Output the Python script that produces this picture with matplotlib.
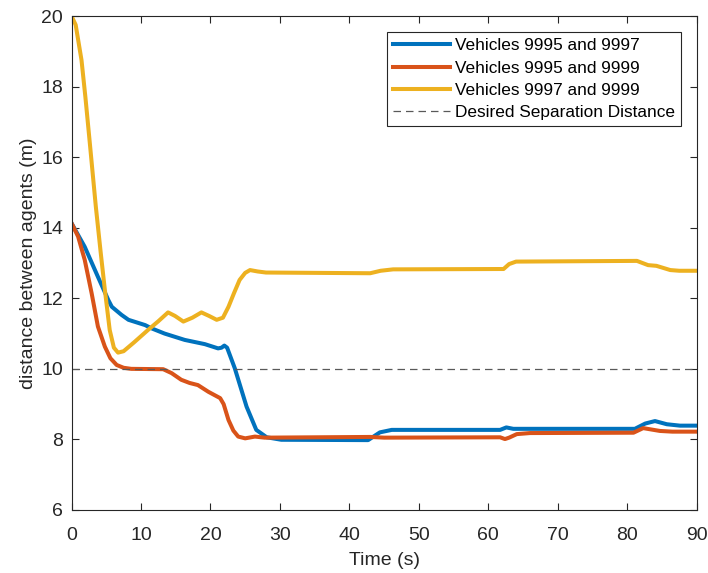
import numpy as np
import matplotlib.pyplot as plt

plt.rcParams['font.family'] = ['Liberation Sans', 'DejaVu Sans']

# Pairwise separation between vehicles over time
t_12 = [0, 1.9, 3.8, 5.3, 5.8, 7.2, 8.2, 10.6, 11.5, 13.4, 16.3, 19.2, 21.1, 21.6, 22.0, 22.4,
        23.5, 25.2, 26.6, 28.1, 30.2, 42.7, 44.4, 46.1, 61.7, 62.6, 63.6, 81.1, 82.6, 84.0,
        85.7, 87.6, 90]
d_12 = [14.13, 13.46, 12.61, 11.95, 11.76, 11.53, 11.39, 11.24, 11.15, 11.0, 10.82, 10.7,
        10.58, 10.6, 10.66, 10.6, 10.02, 8.93, 8.27, 8.06, 7.99, 7.98, 8.2, 8.27, 8.27, 8.34,
        8.3, 8.3, 8.45, 8.52, 8.43, 8.39, 8.39]

t_13 = [0, 0.95, 1.9, 2.9, 3.8, 4.8, 5.6, 6.5, 7.5, 8.6, 13.2, 14.4, 15.8, 17.0, 18.2, 19.7,
        21.4, 21.9, 22.6, 23.3, 24.0, 25.0, 26.4, 27.8, 43.0, 45.0, 61.7, 62.4, 63.0, 64.1,
        66.0, 80.9, 82.3, 84.7, 86.5, 90]
d_13 = [14.13, 13.75, 13.09, 12.14, 11.2, 10.63, 10.3, 10.11, 10.03, 10.0, 9.99, 9.88, 9.69,
        9.6, 9.54, 9.35, 9.17, 9.0, 8.55, 8.25, 8.08, 8.03, 8.08, 8.05, 8.07, 8.05, 8.06, 8.01,
        8.05, 8.15, 8.18, 8.19, 8.32, 8.24, 8.22, 8.22]

t_23 = [0, 0.6, 1.44, 2.0, 2.64, 3.5, 4.2, 4.8, 5.5, 6.1, 6.7, 7.5, 9.0, 11.0, 12.5, 13.9,
        14.9, 16.1, 17.4, 18.7, 19.8, 20.9, 21.8, 22.6, 23.4, 24.2, 25.0, 25.7, 26.8, 28.0,
        43.0, 44.5, 46.3, 62.2, 63.0, 64.0, 81.4, 82.2, 83.0, 84.2, 85.2, 86.2, 87.5, 90]
d_23 = [20.0, 19.75, 18.75, 17.7, 16.39, 14.6, 13.3, 12.24, 11.1, 10.6, 10.46, 10.5, 10.75,
        11.1, 11.35, 11.6, 11.5, 11.34, 11.45, 11.6, 11.5, 11.39, 11.45, 11.76, 12.15, 12.52,
        12.72, 12.8, 12.76, 12.73, 12.71, 12.78, 12.82, 12.83, 12.97, 13.04, 13.06, 13.0,
        12.94, 12.92, 12.86, 12.8, 12.78, 12.78]

desired_sep = 10

labels = ["Vehicles 9995 and 9997", "Vehicles 9995 and 9999", "Vehicles 9997 and 9999",
          "Desired Separation Distance"]
colors = ["#0072BD", "#D95319", "#EDB120"]

fig = plt.figure(figsize=(7.08, 5.73), dpi=100)
ax = fig.add_axes([0.101, 0.110, 0.883, 0.862])

ax.plot(t_12, d_12, color=colors[0], lw=2.9, label=labels[0], solid_joinstyle='round')
ax.plot(t_13, d_13, color=colors[1], lw=2.9, label=labels[1], solid_joinstyle='round')
ax.plot(t_23, d_23, color=colors[2], lw=2.9, label=labels[2], solid_joinstyle='round')
ax.axhline(desired_sep, color='0.35', lw=0.9, ls=(0, (6, 4)), label=labels[3])

ax.set_xlim(0, 90)
ax.set_ylim(6, 20)
ax.set_xticks(np.arange(0, 91, 10))
ax.set_yticks(np.arange(6, 21, 2))
ax.tick_params(direction='in', length=5, width=0.8, top=True, right=True,
               labelsize=14, colors='#262626')
ax.tick_params(axis='x', pad=12)
ax.tick_params(axis='y', pad=6)
for s in ax.spines.values():
    s.set_color('#262626')
    s.set_linewidth(0.8)

ax.set_xlabel("Time (s)", fontsize=14, color='#262626', labelpad=6)
ax.set_ylabel("distance between agents (m)", fontsize=14, color='#262626', labelpad=3)

leg = ax.legend(loc='upper right', bbox_to_anchor=(0.975, 0.967), borderaxespad=0,
                fontsize=12.4, fancybox=False, framealpha=1, edgecolor='#262626',
                handlelength=3.3, handletextpad=0.3, labelspacing=0.42, borderpad=0.35)
leg.get_frame().set_linewidth(0.8)

fig.savefig("out.png", dpi=100)
